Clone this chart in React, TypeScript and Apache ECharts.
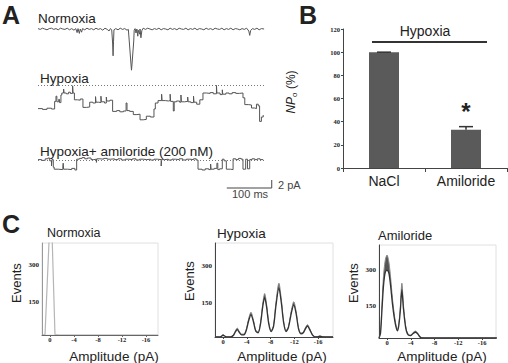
import React, { useEffect, useRef } from "react";
import * as echarts from "echarts";

const SANS = '"Liberation Sans", Arial, sans-serif';
const SERIF = '"Liberation Serif", "Times New Roman", serif';

// ---- Panel A: single-channel recordings, [time (ms), current (pA)] ----
const normoxiaTrace: [number, number][] = [
  [0, 0.1], [5, -0.1], [10, 0.2], [15, 0], [20, -0.2], [25, 0.1], [30, 0.2], [35, -0.1], [40, 0.1],
  [45, -0.2], [50, 0.2], [55, 0], [60, -0.1], [65, 0.2], [70, -0.2], [75, 0.1], [80, -0.3], [84, 0.1],
  [87, -0.9], [89, 0.1], [92, -1.1], [94, 0], [97, -0.8], [99, 0.1], [104, -0.2], [109, 0.2], [114, -0.1],
  [119, 0.1], [124, -0.2], [129, 0.2], [134, -0.1], [139, 0.1], [144, -0.3], [149, 0.2], [154, -0.1],
  [158, -0.5], [161, 0.1], [164, -0.2], [166, -3.5], [167, -6.7], [168, -3.2], [169, -0.2], [173, 0.1],
  [178, -0.2], [183, 0.2], [188, -0.1], [193, 0.1], [198, -0.3], [201, -0.1], [203, -3], [205, -6],
  [207, -9], [208, -10.3], [209, -9], [211, -6], [213, -3], [214, -0.3], [216, 0.1], [218, -1.0],
  [220, 0], [222, -1.8], [223, -0.3], [226, -1.3], [227, 0], [229, -2.2], [231, -0.4], [234, 0.2],
  [239, -0.1], [244, 0.2], [249, 0], [254, -0.2], [259, 0.1], [264, -0.1], [269, 0.2], [274, -0.2],
  [279, 0.1], [284, 0], [289, -0.2], [294, 0.2], [299, -0.1], [304, 0.1], [309, -0.2], [314, 0.2],
  [319, 0], [324, -0.1], [329, 0.2], [334, -0.2], [339, 0.1], [344, -0.1], [349, 0.2], [354, -0.2],
  [359, 0.1], [364, 0], [369, -0.2], [374, 0.2], [379, -0.1], [384, 0.1], [389, -0.2], [394, 0.2],
  [399, 0], [404, -0.1], [409, 0.2], [414, -0.2], [419, 0.1], [424, -0.1], [429, 0.2], [434, -0.2],
  [439, 0.1], [444, 0], [449, -0.2], [454, 0.1], [459, -0.1], [464, 0.2], [469, -0.5], [471, -1.6],
  [473, -0.4], [477, 0.1], [482, -0.1], [487, 0.2], [492, -0.2], [497, 0.1], [503, 0],
];

// step levels: each value holds until the next time point
const hypoxiaTrace: [number, number][] = [
  [0, -5.9], [10, -6.1], [20, -5.8], [30, -6.0], [37, -4.1], [40, -2.8], [42, -4.2], [46, -3.6],
  [48, -4.4], [51, -2.5], [53, -2.0], [57, -1.0], [58, -2.0], [63, -2.2], [68, -1.8], [72, -2.1],
  [77, -0.2], [78, -2.0], [81, -3.7], [88, -3.8], [94, -3.5], [100, -5.6], [108, -5.5], [115, -4.3],
  [122, -4.5], [128, -2.9], [129, -4.3], [135, -4.4], [140, -2.8], [141, -4.2], [148, -4.5],
  [152, -3.0], [153, -4.0], [160, -3.8], [166, -6.6], [175, -6.4], [182, -6.7], [190, -6.5],
  [196, -4.5], [198, -6.4], [204, -6.6], [212, -7.4], [220, -7.3], [227, -8.7], [234, -8.6],
  [241, -7.8], [250, -8.0], [258, -6.0], [261, -4.5], [267, -3.9], [275, -2.3], [276, -3.9],
  [284, -4.0], [290, -3.9], [294, -2.3], [295, -4.1], [301, -6.5], [303, -4.2], [308, -4.0],
  [315, -4.3], [318, -2.5], [319, -4.2], [326, -4.1], [333, -3.0], [334, -4.2], [340, -4.4],
  [346, -2.8], [347, -4.3], [353, -4.8], [360, -3.7], [367, -2.0], [375, -2.1], [383, -1.9],
  [390, -2.2], [397, -0.1], [398, -2.0], [405, -2.4], [410, -1.2], [411, -2.3], [418, -2.0],
  [425, -2.2], [432, -1.9], [440, -2.1], [448, -2.0], [456, -3.2], [460, -4.9], [468, -5.0],
  [475, -5.75], [482, -5.9], [486, -4.8], [490, -5.2], [493, -9.1], [497, -8.0], [501, -7.5],
];

const amilorideTrace: [number, number][] = [
  [0, 0.1], [8, -0.1], [16, 0.3], [22, 0.5], [26, -0.2], [30, -1.5], [31, 0.1], [34, -1.8],
  [36, -2.3], [45, -2.4], [55, -2.2], [56, -0.8], [57, -2.3], [66, -2.4], [75, -2.1], [82, -2.5],
  [86, 0.2], [92, 0.4], [98, 0.6], [104, 0.3], [110, 0.5], [118, 0.1], [124, 0.2], [130, -0.6],
  [131, 0.3], [138, 0.2], [146, 0.4], [154, 0.2], [162, 0.3], [170, 0.1], [178, 0.3], [186, 0],
  [194, 0.2], [202, 0.1], [210, 0.3], [218, 0], [226, 0.2], [234, 0.1], [242, 0.2], [250, 0],
  [258, 0.2], [266, 0.1], [274, -1.5], [275, 0.1], [282, 0.2], [290, 0], [298, 0.2], [306, 0.1],
  [314, 0.3], [322, 0], [330, 0.2], [338, 0.1], [346, 0.3], [352, 0], [356, -2.3], [365, -2.5],
  [372, -2.2], [380, -2.4], [384, -1.0], [385, -2.3], [392, -2.1], [398, -0.8], [400, -2.4],
  [404, -2.2], [410, 0.2], [414, -0.2], [419, -2.3], [428, -2.4], [434, 0.3], [440, 0.1],
  [446, 0.4], [452, 0.2], [456, -2.3], [462, 0.2], [466, -2.2], [471, 0.1], [476, 0.3],
  [482, 0.1], [488, 0.3], [494, 0.1], [501, 0.1],
];

// ---- Panel B: NPo summary ----
const barCategories = ["NaCl", "Amiloride"];
const npoMean = [100, 33];
const npoSem = [0, 2.7];
const npoSignificance = ["", "*"];

// ---- Panel C: amplitude histograms, amplitude (pA) vs events ----
const normoxiaAmp = [1.33, 0.83, 0.17, 0, -0.38, -0.83, -1.5, -18];
const normoxiaEvents = [16, 18, 392, 480, 392, 18, 16, 16];

const hypoxiaAmp = [
  1.35, 0.5, 0.2, 0, -0.3, -0.8, -1.3, -1.8, -2.1, -2.4, -2.7, -3.1, -3.5, -3.9, -4.3, -4.7, -5.1,
  -5.5, -5.9, -6.3, -6.7, -7.0, -7.3, -7.7, -8.1, -8.5, -8.9, -9.4, -9.8, -10.2, -10.6, -11.0,
  -11.5, -11.9, -12.3, -12.7, -13.1, -13.5, -13.9, -14.2, -14.6, -15.0, -15.4, -15.8, -16.3,
  -16.8, -17.3, -18.5,
];
const hypoxiaUpper = [
  12, 12, 18, 22, 16, 12, 13, 22, 38, 48, 36, 24, 24, 42, 85, 112, 82, 40, 32, 70, 150, 188, 150,
  70, 38, 60, 150, 230, 165, 75, 38, 55, 120, 155, 115, 50, 28, 32, 52, 62, 45, 24, 14, 13, 16, 13,
  12, 12,
];
const hypoxiaLower = [
  12, 12, 16, 19, 15, 12, 12, 20, 34, 42, 32, 21, 21, 38, 77, 102, 75, 36, 29, 64, 138, 172, 138,
  64, 34, 55, 138, 210, 152, 69, 34, 50, 110, 142, 106, 45, 25, 29, 47, 56, 41, 22, 13, 12, 15, 12,
  12, 12,
];

const amilorideAmp = [
  1.35, 1.1, 0.9, 0.6, 0.3, 0, -0.3, -0.6, -0.9, -1.2, -1.5, -1.75, -2.0, -2.25, -2.5, -2.75, -3.0,
  -3.25, -3.6, -4.0, -4.4, -4.8, -5.2, -5.6, -6.0, -6.5, -18.5,
];
const amilorideUpper = [
  17, 40, 130, 272, 340, 362, 335, 270, 185, 120, 72, 52, 80, 150, 245, 160, 95, 52, 32, 30, 40,
  46, 36, 22, 18, 17, 17,
];
const amilorideLower = [
  17, 36, 112, 232, 290, 298, 288, 235, 162, 105, 64, 47, 72, 133, 218, 143, 85, 47, 29, 27, 36,
  41, 33, 20, 17, 17, 17,
];

const ampTicks = [0, -4, -8, -12, -16];
const eventTicks = [150, 300];

const zip = (xs: number[], ys: number[]) => xs.map((x, i) => [x, ys[i]]);

function txt(text: string, x: number, y: number, size: number, opts: any = {}) {
  const align = opts.align || "left";
  return {
    type: "text",
    x,
    y,
    rotation: opts.rotation || 0,
    silent: true,
    style: {
      text,
      font: `${opts.weight || "normal"} ${size}px ${opts.family || SANS}`,
      fill: opts.fill || "#222",
      align,
      verticalAlign: "middle",
      textAlign: align,
      textVerticalAlign: "middle",
      rich: opts.rich,
    },
  };
}

export default function App() {
  const ref = useRef<HTMLDivElement>(null);

  useEffect(() => {
    document.body.style.margin = "0";
    const chart = echarts.init(ref.current!, undefined, { renderer: "svg" });

    const traceGrids = [
      { left: 38, top: 21, width: 227, height: 56, min: -12, max: 2 },
      { left: 38, top: 81, width: 227, height: 52, min: -12, max: 1 },
      { left: 38, top: 156, width: 227, height: 20, min: -4, max: 1 },
    ];
    const histGrids = [
      { left: 42, top: 243, width: 116, height: 92, xmin: -18, xmax: 1.333, ymin: 16, ymax: 390, yc: "#999", xc: "#666" },
      { left: 215, top: 243, width: 118, height: 94, xmin: -18.5, xmax: 1.35, ymin: 12, ymax: 393, yc: "#444", xc: "#444" },
      { left: 379, top: 245, width: 117, height: 93, xmin: -18.35, xmax: 1.35, ymin: 17, ymax: 404, yc: "#444", xc: "#444" },
    ];

    const grid: any[] = [];
    const xAxis: any[] = [];
    const yAxis: any[] = [];

    traceGrids.forEach((g, i) => {
      grid.push({ left: g.left, top: g.top, width: g.width, height: g.height, show: false });
      xAxis.push({ type: "value", gridIndex: i, min: 0, max: 505, show: false });
      yAxis.push({ type: "value", gridIndex: i, min: g.min, max: g.max, show: false });
    });

    // bar chart grid (index 3)
    grid.push({ left: 343, top: 29, width: 164, height: 139, show: false });
    xAxis.push({
      type: "category",
      gridIndex: 3,
      data: barCategories,
      axisLine: { lineStyle: { color: "#444", width: 1 } },
      axisTick: { show: true, length: 4, lineStyle: { color: "#444" } },
      axisLabel: { fontSize: 14, fontFamily: SANS, color: "#222", margin: 6 },
    });
    yAxis.push({
      type: "value",
      gridIndex: 3,
      min: 0,
      max: 120,
      interval: 20,
      axisLine: { show: true, onZero: false, lineStyle: { color: "#444" } },
      axisTick: { show: true, length: 2, lineStyle: { color: "#444" } },
      splitLine: { show: false },
      axisLabel: { fontSize: 6.5, fontWeight: "bold", fontFamily: SERIF, color: "#222", margin: 3 },
    });

    // histogram grids (indices 4..6)
    histGrids.forEach((g, k) => {
      const i = 4 + k;
      grid.push({
        left: g.left, top: g.top, width: g.width, height: g.height,
        show: true, borderColor: "#e0e0e0", borderWidth: 1, backgroundColor: "transparent",
      });
      xAxis.push({
        type: "value", gridIndex: i, min: g.xmin, max: g.xmax, inverse: true, z: 10,
        axisLine: { show: true, onZero: false, lineStyle: { color: g.xc } },
        axisTick: { show: true, customValues: ampTicks, length: 2, lineStyle: { color: g.xc } },
        axisLabel: { customValues: ampTicks, fontSize: 6.5, fontWeight: "bold", fontFamily: SERIF, color: "#222", margin: 1 },
        splitLine: { show: false },
      });
      yAxis.push({
        type: "value", gridIndex: i, min: g.ymin, max: g.ymax, z: 10,
        axisLine: { show: true, onZero: false, lineStyle: { color: g.yc } },
        axisTick: { show: false },
        axisLabel: { customValues: eventTicks, fontSize: 7, fontWeight: "bold", fontFamily: SERIF, color: "#222", margin: 3 },
        splitLine: { show: false },
      });
    });

    const dotted = {
      symbol: ["none", "none"],
      silent: true,
      label: { show: false },
      lineStyle: { type: [1, 2], color: "#777", width: 1 },
      data: [{ yAxis: 0 }],
    };
    const traceLine = { color: "#555", width: 1 };

    const series: any[] = [
      { type: "line", xAxisIndex: 0, yAxisIndex: 0, data: normoxiaTrace, symbol: "none", lineStyle: traceLine, clip: false },
      { type: "line", xAxisIndex: 1, yAxisIndex: 1, data: hypoxiaTrace, step: "end", symbol: "none", lineStyle: traceLine, clip: false, markLine: dotted },
      { type: "line", xAxisIndex: 2, yAxisIndex: 2, data: amilorideTrace, step: "end", symbol: "none", lineStyle: traceLine, clip: false, markLine: dotted },
      {
        type: "bar", xAxisIndex: 3, yAxisIndex: 3, data: npoMean, barWidth: 30,
        itemStyle: { color: "#5a5a5a" },
      },
      {
        type: "custom", xAxisIndex: 3, yAxisIndex: 3, z: 5,
        data: npoMean.map((m, i) => [i, m, npoSem[i]]),
        renderItem: (params: any, api: any) => {
          const i = api.value(0);
          const m = api.value(1);
          const e = api.value(2);
          const base = api.coord([i, m]);
          const top = api.coord([i, m + e]);
          const children: any[] = [
            { type: "line", shape: { x1: base[0], y1: base[1], x2: top[0], y2: top[1] }, style: { stroke: "#333", lineWidth: 1.5 } },
            { type: "line", shape: { x1: top[0] - 7, y1: top[1], x2: top[0] + 7, y2: top[1] }, style: { stroke: "#333", lineWidth: 1.5 } },
          ];
          const sig = npoSignificance[params.dataIndex];
          if (sig) {
            children.push({
              type: "text",
              x: top[0],
              y: top[1] - 3,
              style: { text: sig, font: `bold 24px ${SANS}`, fill: "#222", align: "center", verticalAlign: "bottom", textAlign: "center", textVerticalAlign: "bottom" },
            });
          }
          return { type: "group", children };
        },
      },
      // normoxia histogram
      {
        type: "line", xAxisIndex: 4, yAxisIndex: 4, data: zip(normoxiaAmp, normoxiaEvents),
        symbol: "none", lineStyle: { color: "#b5b5b5", width: 1.2 },
      },
      // hypoxia histogram: outer envelope filled, inner envelope cleared
      {
        type: "line", xAxisIndex: 5, yAxisIndex: 5, data: zip(hypoxiaAmp, hypoxiaUpper), z: 2,
        symbol: "none", smooth: 0.3, lineStyle: { color: "#888", width: 1 }, areaStyle: { color: "#555", opacity: 1 },
      },
      {
        type: "line", xAxisIndex: 5, yAxisIndex: 5, data: zip(hypoxiaAmp, hypoxiaLower), z: 3,
        symbol: "none", smooth: 0.3, lineStyle: { color: "#333", width: 1.3 }, areaStyle: { color: "#fff", opacity: 1 },
      },
      {
        type: "line", xAxisIndex: 6, yAxisIndex: 6, data: zip(amilorideAmp, amilorideUpper), z: 2,
        symbol: "none", smooth: 0.3, lineStyle: { color: "#888", width: 1 }, areaStyle: { color: "#555", opacity: 1 },
      },
      {
        type: "line", xAxisIndex: 6, yAxisIndex: 6, data: zip(amilorideAmp, amilorideLower), z: 3,
        symbol: "none", smooth: 0.3, lineStyle: { color: "#333", width: 1.3 }, areaStyle: { color: "#fff", opacity: 1 },
      },
    ];

    const npoRich = {
      i: { fontStyle: "italic", fontSize: 12, fontFamily: SANS, color: "#222", lineHeight: 14 },
      s: { fontSize: 8, fontFamily: SANS, color: "#222", verticalAlign: "bottom", lineHeight: 14 },
      n: { fontSize: 12, fontFamily: SANS, color: "#222", lineHeight: 14 },
    };

    const graphic: any[] = [
      txt("A", 2, 15, 25, { weight: "bold" }),
      txt("B", 299, 15, 25, { weight: "bold" }),
      txt("C", 2, 224, 25, { weight: "bold" }),
      txt("Normoxia", 38, 18, 13.5),
      txt("Hypoxia", 40, 78, 13.5),
      txt("Hypoxia+ amiloride (200 nM)", 40, 151, 13.5),
      txt("100 ms", 250, 194, 11, { align: "center", fill: "#444" }),
      txt("2 pA", 278, 185, 11, { fill: "#444" }),
      txt("Hypoxia", 425, 31, 14, { align: "center" }),
      { type: "line", silent: true, shape: { x1: 372, y1: 42, x2: 487, y2: 42 }, style: { stroke: "#333", lineWidth: 2 } },
      txt("{i|NP}{s|o}{n| (%)}", 291, 92, 12, { align: "center", rotation: Math.PI / 2, rich: npoRich }),
      txt("Normoxia", 47, 233, 12.5),
      txt("Hypoxia", 217, 233, 13.5),
      txt("Amiloride", 378, 235, 13),
      txt("Events", 16, 283, 13, { align: "center", rotation: Math.PI / 2 }),
      txt("Events", 189, 281, 13, { align: "center", rotation: Math.PI / 2 }),
      txt("Events", 353, 283, 13, { align: "center", rotation: Math.PI / 2 }),
      txt("Amplitude (pA)", 114, 356, 13.5, { align: "center" }),
      txt("Amplitude (pA)", 282, 356, 13.5, { align: "center" }),
      txt("Amplitude (pA)", 442, 356, 13.5, { align: "center" }),
    ];

    chart.setOption({
      animation: false,
      backgroundColor: "#fff",
      grid,
      xAxis,
      yAxis,
      series,
      graphic,
    });

    // scale bar: 100 ms x 2 pA, placed in the amiloride trace coordinates
    const p0 = chart.convertToPixel({ xAxisIndex: 2, yAxisIndex: 2 }, [420, -7]) as number[];
    const p1 = chart.convertToPixel({ xAxisIndex: 2, yAxisIndex: 2 }, [520, -7]) as number[];
    const p2 = chart.convertToPixel({ xAxisIndex: 2, yAxisIndex: 2 }, [520, -5]) as number[];
    chart.setOption({
      graphic: [
        ...graphic,
        {
          type: "polyline",
          silent: true,
          shape: { points: [p0, p1, p2] },
          style: { stroke: "#444", lineWidth: 1, fill: "none" },
        },
      ],
    });

    return () => chart.dispose();
  }, []);

  return (
    <div
      ref={ref}
      style={{ position: "absolute", left: 0, top: 0, width: 508, height: 363, background: "#fff" }}
    />
  );
}
